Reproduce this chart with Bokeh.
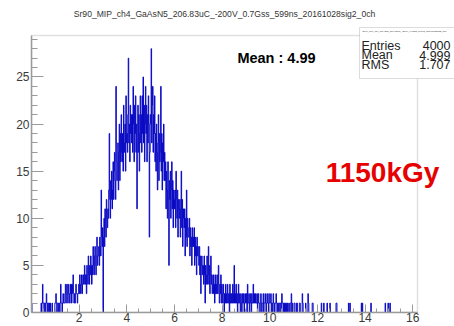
import numpy as np
from bokeh.plotting import figure
from bokeh.models import Range1d, FixedTicker, Label, BoxAnnotation
from bokeh.embed import file_html
from bokeh.resources import INLINE

TITLE = "Sr90_MIP_ch4_GaAsN5_206.83uC_-200V_0.7Gss_599ns_20161028sig2_0ch"
X_MIN, X_MAX = 0.0, 16.2
Y_MAX = 29.4
BIN_WIDTH = 0.02

counts_00_10 = [1,0,0,0,0,0,0,0,0,0, 0,0,0,0,0,0,0,0,0,0, 1,0,1,3,1,1,0,1,1,0,
                1,2,1,0,1,1,0,1,0,1, 0,0,0,1,0,0,0,0,0,1]
counts_10_20 = [1,2,1,0,1,1,0,1,1,0, 1,3,1,1,0,1,2,1,1,1, 2,3,1,2,3,2,1,3,2,2,
                1,3,2,3,1,2,3,4,2,1, 2,1,2,3,2,2,1,2,2,3]
counts_20_30 = [2,4,3,2,3,4,2,3,4,3, 3,5,4,3,4,2,5,4,3,6, 4,3,5,4,6,5,3,5,4,7,
                5,4,6,7,5,4,6,8,5,6, 6,7,5,8,7,6,13,8,7,9]
counts_30_40 = [0,8,10,7,11,9,8,12,10,9, 11,10,13,19,12,10,14,12,15,11,
                13,16,12,15,17,14,12,24,16,14, 15,18,13,17,20,14,19,16,21,17,
                16,19,15,22,18,17,20,15,23,18]
counts_40_50 = [19,17,21,27,18,20,16,22,19,21, 18,21,17,24,20,16,22,19,23,17,
                20,11,18,22,17,21,15,19,23,18, 21,17,23,19,25,18,22,16,20,24,
                19,22,16,21,18,23,20,8,17,21]
counts_50_60 = [20,28,18,22,24,17,21,19,23,16, 19,15,20,17,13,18,21,14,19,16,
                17,24,15,19,13,18,16,20,14,17, 14,16,11,15,13,10,16,12,5,14,
                12,15,10,13,16,11,14,9,13,12]
counts_60_70 = [11,13,9,15,12,10,13,8,12,11, 10,12,8,11,15,9,12,7,11,10,
                9,11,6,10,8,13,7,10,9,8, 8,10,6,9,7,8,5,9,7,8,
                7,9,5,8,6,7,4,8,6,7]
counts_70_80 = [6,5,7,4,6,2,5,6,4,5, 5,3,6,4,1,5,3,4,6,3, 4,7,3,5,2,4,6,3,4,2,
                3,4,2,3,1,4,2,3,2,4, 2,3,5,2,1,3,2,4,1,3]
counts_80_90 = [2,1,3,2,0,2,1,3,1,2, 1,3,2,1,2,0,3,1,2,1, 2,1,3,1,2,5,1,2,1,3,
                1,2,0,1,3,1,2,1,0,2, 1,0,2,1,1,2,0,1,2,1]
counts_90_100 = [1,2,0,3,1,1,2,0,1,2, 1,0,2,1,1,3,1,2,1,1, 2,1,1,2,0,1,2,1,1,0,
                 1,2,1,0,1,1,2,0,1,1, 2,1,0,1,2,1,1,0,2,1]
counts_100_110 = [1,1,2,0,1,1,0,2,1,1, 0,1,1,2,1,0,1,1,0,1, 1,0,1,1,0,2,1,1,0,1,
                  0,1,1,0,0,1,0,1,0,0, 1,0,0,1,1,2,0,1,0,0]
counts_110_120 = [0,1,1,0,0,0,1,1,0,0, 0,0,1,1,0,0,0,0,2,1, 0,0,0,0,0,1,0,0,0,0,
                  2,1,0,0,0,0,0,0,0,1, 1,0,0,0,0,0,0,0,0,0]
counts_120_130 = [0,0,0,0,0,0,0,0,1,0, 0,0,0,1,0,0,0,0,0,0, 1,0,0,0,0,0,1,0,0,0,
                  0,0,0,0,0,0,0,0,0,1, 1,0,0,0,0,0,0,0,0,0]
counts_130_140 = [0,0,0,0,0,0,0,0,0,0, 0,0,0,0,0,1,0,0,1,0, 0,0,0,0,0,0,0,0,0,0,
                  0,0,0,0,0,0,0,0,0,0, 0,0,1,0,1,0,0,0,0,0]
counts_140_150 = [0,0,0,0,0,0,0,0,0,0, 0,0,1,0,0,0,0,0,0,0, 0,0,0,0,0,0,0,0,0,0,
                  0,0,0,0,0,0,0,0,0,0, 0,0,1,0,0,0,0,0,1,0]
counts_150_160 = [0,0,1,0,0,0,0,0,0,0, 0,0,0,0,0,0,0,0,0,0, 0,0,0,0,0,0,0,0,0,0,
                  0,0,0,0,0,0,0,0,0,0, 0,0,0,0,0,0,0,0,0,0]
counts_160_162 = [0,0,0,0,0,0,0,0,0,0]

x_ticks = [2, 4, 6, 8, 10, 12, 14, 16]
x_minor = [0.5 * k for k in range(1, 33)]
y_ticks = [0, 5, 10, 15, 20, 25]
y_minor = list(range(0, 30))

stats_names = ["Entries", "Mean", "RMS"]
stats_values = ["4000", "4.999", "1.707"]
note_mean = "Mean : 4.99"
note_dose = "1150kGy"

counts = np.array(counts_00_10 + counts_10_20 + counts_20_30 + counts_30_40 + counts_40_50
                  + counts_50_60 + counts_60_70 + counts_70_80 + counts_80_90 + counts_90_100
                  + counts_100_110 + counts_110_120 + counts_120_130 + counts_130_140
                  + counts_140_150 + counts_150_160 + counts_160_162, dtype=float)
edges = X_MIN + BIN_WIDTH * np.arange(len(counts) + 1)
xs = np.concatenate([[edges[0]], np.repeat(edges, 2)[1:-1], [edges[-1]]])
ys = np.concatenate([[0.0], np.repeat(counts, 2), [0.0]])

FONT = "Liberation Sans"
GRAY = "#9a9a9a"

# pixel geometry of the drawn frame: left 31, right 417, top 35, bottom 312 (canvas 454x326)
PX_PER_X = (417 - 31) / (X_MAX - X_MIN)
PX_PER_Y = (312 - 35) / Y_MAX
VIEW_X_MAX = X_MIN + (454 - 31) / PX_PER_X
VIEW_Y_MAX = 312 / PX_PER_Y

p = figure(width=454, height=326, output_backend="svg", toolbar_location=None,
           x_range=Range1d(X_MIN, VIEW_X_MAX), y_range=Range1d(0, VIEW_Y_MAX),
           min_border_left=31, min_border_right=0, min_border_top=0, min_border_bottom=14)
p.background_fill_color = "white"
p.border_fill_color = "white"
p.outline_line_color = None
p.xgrid.visible = False
p.ygrid.visible = False

# frame of the histogram
p.add_layout(BoxAnnotation(left=X_MIN, right=X_MAX, bottom=0, top=Y_MAX,
                           fill_alpha=0, line_color=GRAY, line_width=1.5))

p.line(xs, ys, line_color="#0a0ac4", line_width=1)

for ax in (p.xaxis[0], p.yaxis[0]):
    ax.axis_line_color = GRAY
    ax.axis_line_width = 1.5
    ax.major_tick_line_color = GRAY
    ax.minor_tick_line_color = GRAY
    ax.major_tick_out = 0
    ax.minor_tick_out = 0
    ax.major_label_text_font = FONT
    ax.major_label_text_font_size = "12px"
    ax.major_label_text_color = "#3a3a3a"
p.xaxis.bounds = (X_MIN, X_MAX)
p.yaxis.bounds = (0, Y_MAX)
p.xaxis.ticker = FixedTicker(ticks=x_ticks, minor_ticks=x_minor)
p.yaxis.ticker = FixedTicker(ticks=y_ticks, minor_ticks=y_minor)
p.xaxis.major_tick_in = 8
p.xaxis.minor_tick_in = 4
p.yaxis.major_tick_in = 12
p.yaxis.minor_tick_in = 6
p.xaxis.major_label_standoff = 0
p.yaxis.major_label_standoff = 2

# title (screen units are relative to the frame: x from left, y up from bottom)
p.add_layout(Label(x=193, y=299, x_units="screen", y_units="screen", text=TITLE,
                   text_font=FONT, text_font_size="8.6px", text_color="#333333",
                   text_align="center", text_baseline="middle"))

# stats box
p.add_layout(BoxAnnotation(left=328, right=430, bottom=234, top=285,
                           left_units="screen", right_units="screen",
                           bottom_units="screen", top_units="screen",
                           fill_color="white", fill_alpha=1.0,
                           line_color="#8a8a8a", line_width=1))
p.add_layout(Label(x=331, y=281, x_units="screen", y_units="screen", text=TITLE,
                   text_font=FONT, text_font_size="2.4px", text_color="#333333",
                   text_align="left", text_baseline="middle"))
for i, (nm, vl) in enumerate(zip(stats_names, stats_values)):
    yy = 267 - 9.6 * i
    p.add_layout(Label(x=330, y=yy, x_units="screen", y_units="screen", text=nm,
                       text_font=FONT, text_font_size="12.5px", text_color="#222222",
                       text_align="left", text_baseline="middle"))
    p.add_layout(Label(x=419, y=yy, x_units="screen", y_units="screen", text=vl,
                       text_font=FONT, text_font_size="12.5px", text_color="#222222",
                       text_align="right", text_baseline="middle"))

p.add_layout(Label(x=245, y=255, x_units="screen", y_units="screen", text=note_mean,
                   text_font=FONT, text_font_size="14.5px", text_font_style="bold",
                   text_color="black", text_align="center", text_baseline="middle"))
p.add_layout(Label(x=351, y=140, x_units="screen", y_units="screen", text=note_dose,
                   text_font=FONT, text_font_size="28px", text_font_style="bold",
                   text_color="#e60000", text_align="center", text_baseline="middle"))

open("out.html", "w").write(file_html(p, INLINE))
